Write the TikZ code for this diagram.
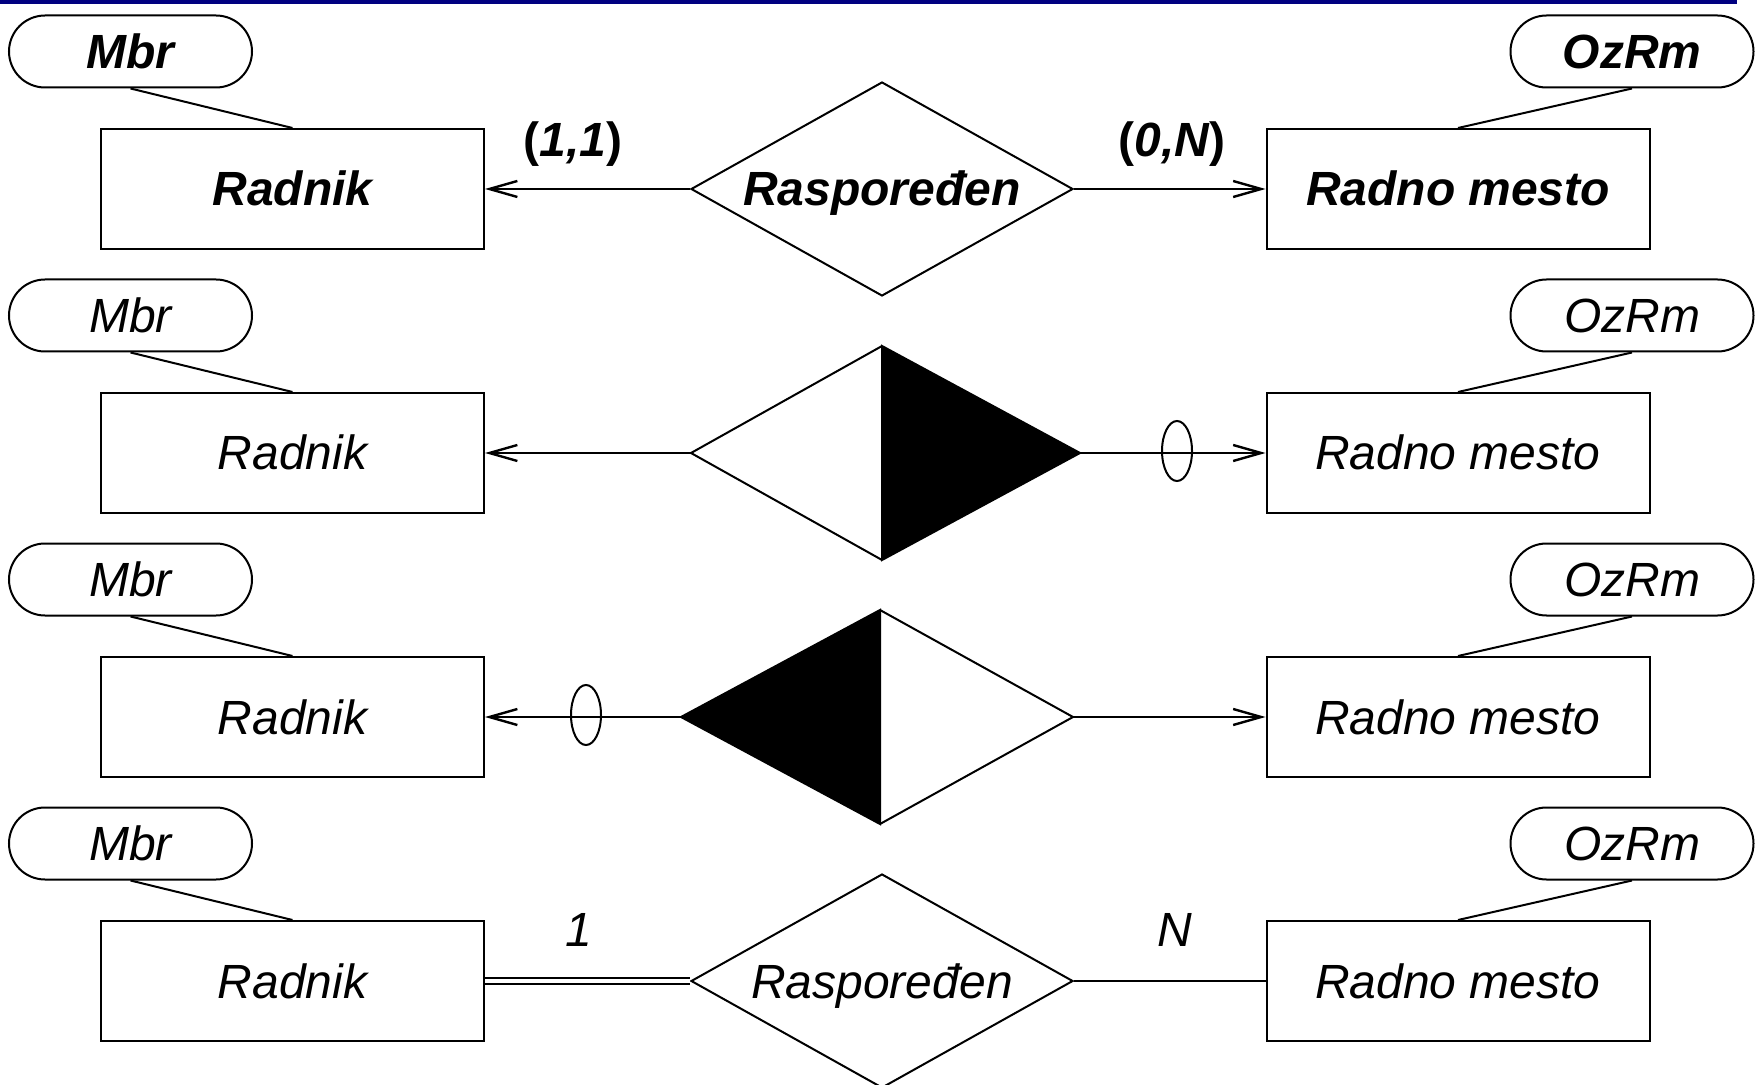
\documentclass[tikz,border=0pt]{standalone}
\usepackage{fontspec}
\setmainfont{Liberation Sans}
\usetikzlibrary{shapes.geometric,arrows.meta}
\definecolor{navybar}{RGB}{0,0,128}
\tikzset{
  lbl/.style={font=\fontsize{24}{28}\selectfont\itshape},
  bfl/.style={font=\fontsize{24}{28}\selectfont\bfseries\itshape},
  ent/.style={draw, line width=1pt, minimum width=191.5pt, minimum height=60pt, inner sep=0pt, text height=17pt, text depth=0pt, lbl},
  attr/.style={draw, line width=1pt, rounded corners=18pt, minimum width=121.5pt, minimum height=36pt, inner sep=0pt, text height=17pt, text depth=0pt, lbl},
  rel/.style={draw, diamond, aspect=1.785, line width=1pt, minimum width=191pt, minimum height=107pt, inner sep=0pt, text height=17pt, text depth=0pt, lbl},
  conn/.style={line width=1.3pt},
  arr/.style={conn, -{Straight Barb[length=14pt,width=8pt,line width=1.2pt]}},
  ring/.style={draw, ellipse, line width=1pt, minimum width=15pt, minimum height=30pt, inner sep=0pt},
  card/.style={lbl, inner sep=0pt, text height=17pt, text depth=0pt},
  link/.style={line width=1pt},
}
\begin{document}
\begin{tikzpicture}[x=0.5pt,y=-0.5pt]
\useasboundingbox (0,0) rectangle (1756,1085);
\fill[navybar] (0,0) rectangle (1737,4.5);

% ---------- Row 1 ----------
\node[attr,bfl] (a1) at (130.5,51.5) {Mbr};
\node[attr,bfl] (b1) at (1632,51.5) {OzRm};
\node[ent,bfl] (e1) at (292.5,189) {Radnik};
\node[ent,bfl] (f1) at (1458,189) {Radno mesto};
\node[rel,bfl] (r1) at (882,189) {Raspoređen};
\draw[link] (a1.south) -- (e1.north);
\draw[link] (b1.south) -- (f1.north);
\draw[arr] (r1.west) -- (e1.east);
\draw[arr] (r1.east) -- (f1.west);
\node[card,bfl] (c1) at (573,140) {{\upshape(}1,1{\upshape)}};
\node[card,bfl] (c2) at (1172,140) {{\upshape(}0,N{\upshape)}};

% ---------- Row 2 ----------
\node[attr] (a2) at (130.5,315.5) {Mbr};
\node[attr] (b2) at (1632,315.5) {OzRm};
\node[ent] (e2) at (292.5,453) {Radnik};
\node[ent] (f2) at (1458,453) {Radno mesto};
\coordinate (d2l) at (691,453);
\coordinate (d2t) at (882,346);
\coordinate (d2r) at (1080,453);
\coordinate (d2b) at (882,560);
\filldraw[line width=1pt] (d2t) -- (d2r) -- (d2b) -- cycle;
\draw[line width=1pt] (d2t) -- (d2l) -- (d2b);
\draw[link] (a2.south) -- (e2.north);
\draw[link] (b2.south) -- (f2.north);
\draw[arr] (d2l) -- (e2.east);
\draw[arr] (d2r) -- (f2.west);
\node[ring] (o2) at (1177,451) {};

% ---------- Row 3 ----------
\node[attr] (a3) at (130.5,579.5) {Mbr};
\node[attr] (b3) at (1632,579.5) {OzRm};
\node[ent] (e3) at (292.5,717) {Radnik};
\node[ent] (f3) at (1458,717) {Radno mesto};
\coordinate (d3l) at (681,717);
\coordinate (d3t) at (880,610);
\coordinate (d3r) at (1073,717);
\coordinate (d3b) at (880,824);
\filldraw[line width=1pt] (d3t) -- (d3l) -- (d3b) -- cycle;
\draw[line width=1pt] (d3t) -- (d3r) -- (d3b);
\draw[link] (a3.south) -- (e3.north);
\draw[link] (b3.south) -- (f3.north);
\draw[arr] (d3l) -- (e3.east);
\draw[arr] (d3r) -- (f3.west);
\node[ring] (o3) at (586,715) {};

% ---------- Row 4 ----------
\node[attr] (a4) at (130.5,843.5) {Mbr};
\node[attr] (b4) at (1632,843.5) {OzRm};
\node[ent] (e4) at (292.5,981) {Radnik};
\node[ent] (f4) at (1458,981) {Radno mesto};
\node[rel] (r4) at (882,981) {Raspoređen};
\draw[link] (a4.south) -- (e4.north);
\draw[link] (b4.south) -- (f4.north);
\draw[double, double distance=2pt, line width=1pt] (e4.east) -- (r4.west);
\draw[link] (r4.east) -- (f4.west);
\node[card] (c3) at (579,929) {1};
\node[card] (c4) at (1175,929) {N};
\end{tikzpicture}
\end{document}
